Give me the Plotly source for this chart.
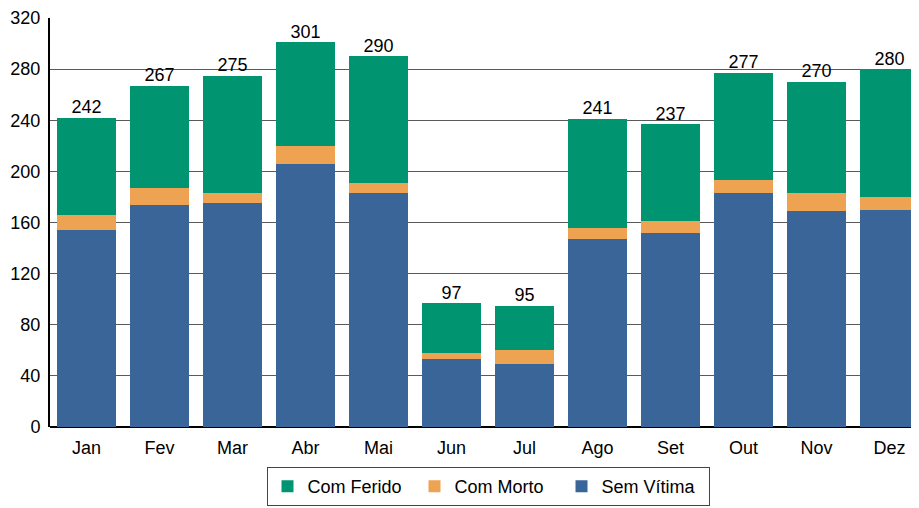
import plotly.graph_objects as go

# Monthly accident counts by outcome
months = ["Jan", "Fev", "Mar", "Abr", "Mai", "Jun", "Jul", "Ago", "Set", "Out", "Nov", "Dez"]
sem_vitima = [154, 174, 175, 206, 183, 53, 49, 147, 152, 183, 169, 170]
com_morto = [12, 13, 8, 14, 8, 5, 11, 9, 9, 10, 14, 10]
com_ferido = [76, 80, 92, 81, 99, 39, 35, 85, 76, 84, 87, 100]
y_ticks = [0, 40, 80, 120, 160, 200, 240, 280, 320]

totals = [a + b + c for a, b, c in zip(sem_vitima, com_morto, com_ferido)]

FONT = "Liberation Sans, Arial, sans-serif"

fig = go.Figure()
fig.add_trace(go.Bar(x=months, y=sem_vitima, name="Sem Vítima", marker=dict(color="#3a6599", line_width=0)))
fig.add_trace(go.Bar(x=months, y=com_morto, name="Com Morto", marker=dict(color="#eea353", line_width=0)))
fig.add_trace(go.Bar(x=months, y=com_ferido, name="Com Ferido", marker=dict(color="#009470", line_width=0)))
# total label above each stack
fig.add_trace(
    go.Scatter(
        x=months,
        y=totals,
        mode="text",
        text=[str(t) for t in totals],
        textposition="top center",
        textfont=dict(size=18, color="black", family=FONT),
        showlegend=False,
        hoverinfo="skip",
        cliponaxis=False,
    )
)

# the page body adds an 8px offset, margins account for it
fig.update_layout(
    width=919,
    height=508,
    barmode="stack",
    bargap=0.19,
    margin=dict(l=42, r=1, t=10, b=89),
    plot_bgcolor="white",
    paper_bgcolor="white",
    font=dict(family=FONT, size=18, color="black"),
    xaxis=dict(
        range=[-0.5, 11.5],
        showgrid=False,
        ticks="",
        ticklabelstandoff=8,
        showline=False,
        automargin=False,
    ),
    yaxis=dict(
        range=[0, 320],
        tickvals=y_ticks,
        showgrid=True,
        gridcolor="#5a5a5a",
        gridwidth=1,
        zeroline=True,
        zerolinecolor="black",
        zerolinewidth=2,
        showline=True,
        linecolor="black",
        linewidth=2,
        ticks="",
        ticklabelstandoff=4,
        automargin=False,
    ),
    legend=dict(
        orientation="h",
        traceorder="reversed",
        x=0.5,
        xanchor="center",
        y=-0.098,
        yanchor="top",
        bordercolor="#444444",
        borderwidth=1,
        font=dict(size=18),
        itemwidth=30,
        entrywidth=102,
        entrywidthmode="pixels",
    ),
)

fig.write_html("out.html")
